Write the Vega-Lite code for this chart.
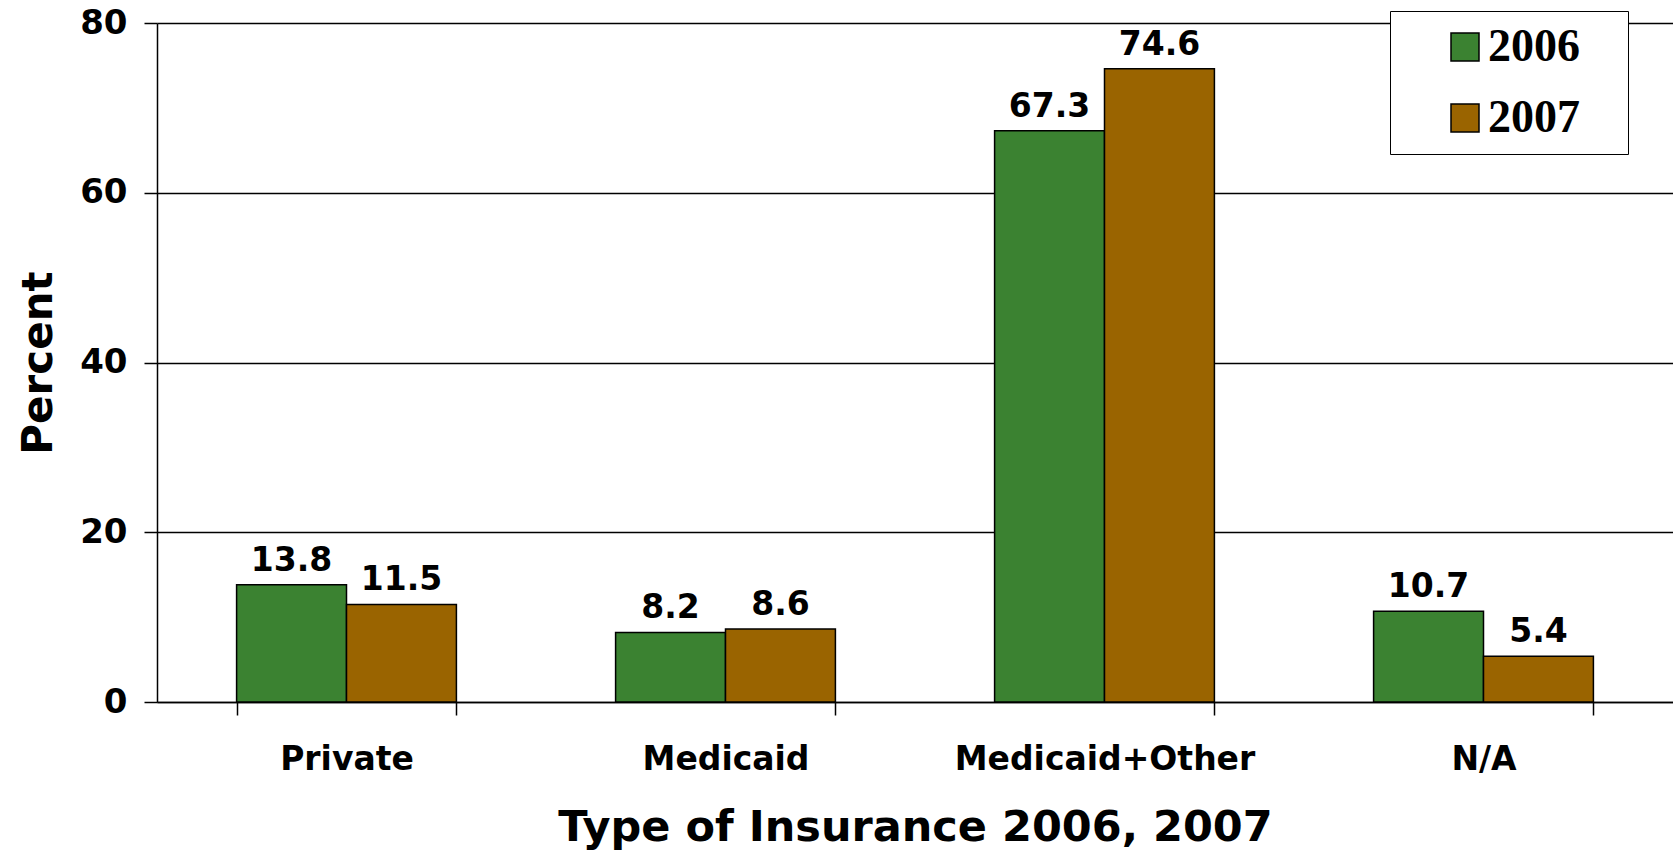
{
  "$schema": "https://vega.github.io/schema/vega-lite/v6.json",
  "width": 1516,
  "height": 679,
  "autosize": {"type": "none"},
  "padding": {"left": 157, "top": 23, "right": 0, "bottom": 155},
  "background": "white",
  "config": {
    "view": {"stroke": null},
    "font": "DejaVu Sans",
    "axis": {
      "domainColor": "black",
      "domainWidth": 1.5,
      "tickColor": "black",
      "tickWidth": 1.5,
      "tickSize": 13,
      "labelColor": "black",
      "titleColor": "black",
      "labelFont": "DejaVu Sans",
      "titleFont": "DejaVu Sans",
      "labelFontWeight": "bold",
      "titleFontWeight": "bold"
    }
  },
  "data": {
    "values": [
      {"type": "Private", "year": "2006", "percent": 13.8},
      {"type": "Private", "year": "2007", "percent": 11.5},
      {"type": "Medicaid", "year": "2006", "percent": 8.2},
      {"type": "Medicaid", "year": "2007", "percent": 8.6},
      {"type": "Medicaid+Other", "year": "2006", "percent": 67.3},
      {"type": "Medicaid+Other", "year": "2007", "percent": 74.6},
      {"type": "N/A", "year": "2006", "percent": 10.7},
      {"type": "N/A", "year": "2007", "percent": 5.4}
    ]
  },
  "encoding": {
    "x": {
      "field": "type",
      "type": "nominal",
      "sort": null,
      "scale": {"paddingInner": 0.42, "paddingOuter": 0.21},
      "axis": {
        "title": "Type of Insurance 2006, 2007",
        "labelAngle": 0,
        "labelFontSize": 33,
        "labelPadding": 28,
        "labelLimit": 0,
        "titleFontSize": 43,
        "titlePadding": 30,
        "tickBand": "extent",
        "grid": false
      }
    },
    "xOffset": {"field": "year", "type": "nominal", "scale": {"paddingInner": 0, "paddingOuter": 0}},
    "y": {
      "field": "percent",
      "type": "quantitative",
      "scale": {"domain": [0, 80], "nice": false},
      "axis": {
        "title": "Percent",
        "values": [0, 20, 40, 60, 80],
        "grid": true,
        "gridColor": "black",
        "gridWidth": 1.5,
        "gridOpacity": 1,
        "labelFontSize": 34,
        "labelPadding": 17,
        "titleFontSize": 42,
        "titlePadding": 19
      }
    }
  },
  "layer": [
    {
      "mark": {"type": "bar", "stroke": "black", "strokeWidth": 1.5},
      "encoding": {
        "color": {
          "field": "year",
          "type": "nominal",
          "scale": {"domain": ["2006", "2007"], "range": ["#3b8231", "#9a6400"]},
          "legend": {
            "title": null,
            "orient": "none",
            "legendX": 1233,
            "legendY": -12,
            "padding": 13,
            "symbolOffset": 39,
            "symbolType": "square",
            "symbolSize": 784,
            "symbolStrokeColor": "black",
            "symbolStrokeWidth": 1.5,
            "labelFont": "Liberation Serif",
            "labelFontWeight": "bold",
            "labelFontSize": 46,
            "labelColor": "black",
            "labelOffset": 0,
            "labelLimit": 0,
            "labelExpr": "datum.label + '\u00a0\u00a0\u00a0\u200b'",
            "rowPadding": 25,
            "strokeColor": "black",
            "fillColor": "white"
          }
        }
      }
    },
    {
      "mark": {"type": "text", "baseline": "bottom", "dy": -7, "fontSize": 33, "fontWeight": "bold", "font": "DejaVu Sans", "color": "black"},
      "encoding": {
        "text": {"field": "percent", "type": "quantitative", "format": ".1f"}
      }
    }
  ]
}
